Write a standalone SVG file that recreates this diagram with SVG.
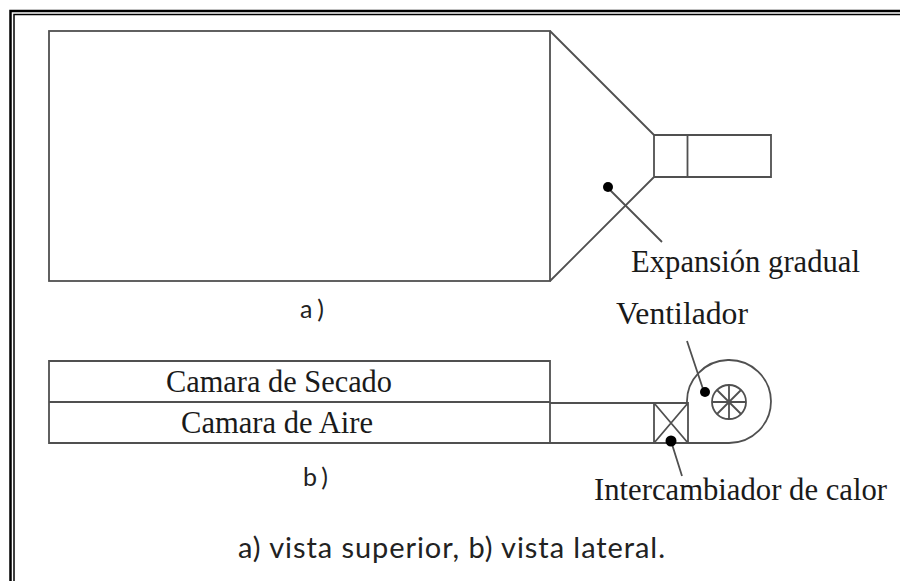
<svg xmlns="http://www.w3.org/2000/svg" width="900" height="581" viewBox="0 0 900 581">
<style>
.l{fill:none;stroke:#505050;stroke-width:1.800}
.t{font-family:"Liberation Serif",serif;font-size:30.500px;fill:#1a1a1a}
.c{font-family:"Lato",sans-serif;fill:#222}
.b{fill:none;stroke:#000}
</style>
<rect width="900" height="581" fill="#fff"/>
<g id="border">
<path class="b" stroke-width="2.500" d="M900 11H10.500V581"/>
<path class="b" stroke-width="1.500" d="M900 14.500H14V581"/>
</g>
<g id="view-a">
<rect class="l" x="49" y="31" width="501" height="250"/>
<path class="l" d="M550 31L654 135H771V177H654L550 281M654 135V177M687.500 135V177"/>
</g>
<g id="view-b">
<path class="l" d="M49 361H550V402H49ZM49 402V443H550V402M550 403H654M550 443H654"/>
<path class="l" d="M654 403H688V443H654ZM654 403L688 443M688 403L654 443M688 443H729"/>
<path class="l" d="M687 403A42 41.500 0 1 1 729 443"/>
<circle class="l" cx="729" cy="402" r="17"/>
<path class="l" d="M712 402H746M729 385V419M717 390L741 414M741 390L717 414"/>
</g>
<g id="connectors">
<path class="l" d="M607 187L662 242M687 341L704 392M671 441L682 476"/>
<circle cx="608" cy="187" r="5"/>
<circle cx="705" cy="392" r="5"/>
<circle cx="671" cy="441" r="5.500"/>
</g>
<g id="labels">
<text class="t" x="631" y="272" textLength="229" lengthAdjust="spacingAndGlyphs">Expansión gradual</text>
<text class="t" x="616" y="324" textLength="132" lengthAdjust="spacingAndGlyphs">Ventilador</text>
<text class="t" x="166" y="392" textLength="226" lengthAdjust="spacingAndGlyphs">Camara de Secado</text>
<text class="t" x="181" y="433" textLength="192" lengthAdjust="spacingAndGlyphs">Camara de Aire</text>
<text class="t" x="594" y="500" textLength="293" lengthAdjust="spacingAndGlyphs">Intercambiador de calor</text>
<text class="c" x="300" y="318" font-size="25" textLength="24">a)</text>
<text class="c" x="303" y="486" font-size="25" textLength="25">b)</text>
<text class="c" x="238" y="558" font-size="29" textLength="427">a) vista superior, b) vista lateral.</text>
</g>
</svg>
